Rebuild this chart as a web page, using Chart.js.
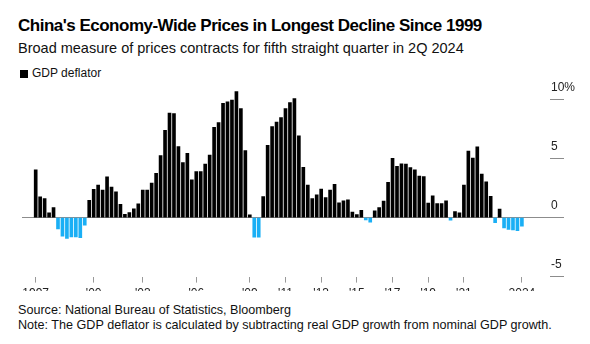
<!DOCTYPE html>
<html lang="en">
<head>
<meta charset="UTF-8">
<title>China's Economy-Wide Prices in Longest Decline Since 1999</title>
<script src="https://cdn.jsdelivr.net/npm/chart.js@4.4.1/dist/chart.umd.min.js"></script>
<style>
  body { margin: 0; background: #fff; font-family: "Liberation Sans", Arial, sans-serif; color: #000; }
  .wrap { position: relative; width: 590px; height: 344px; overflow: hidden; }
  h1 { position: absolute; left: 18px; top: 16px; margin: 0; font-size: 17px; font-weight: bold; letter-spacing: -0.5px; white-space: nowrap; }
  .sub { position: absolute; left: 18px; top: 40px; font-size: 14.5px; color: #111; white-space: nowrap; }
  .legend { position: absolute; left: 20px; top: 66px; font-size: 12px; color: #111; }
  .legend i { display: inline-block; width: 8px; height: 8px; background: #000; margin-right: 4px; vertical-align: -1px; }
  .chart-box { position: absolute; left: 0; top: 80px; width: 590px; height: 211px; overflow: hidden; }
  .chart-inner { position: relative; width: 590px; height: 229px; }
  .foot { position: absolute; left: 18px; top: 303px; font-size: 12.6px; line-height: 15px; color: #111; white-space: nowrap; }
</style>
</head>
<body>
<div class="wrap">
  <h1>China's Economy-Wide Prices in Longest Decline Since 1999</h1>
  <div class="sub">Broad measure of prices contracts for fifth straight quarter in 2Q 2024</div>
  <div class="legend"><i></i>GDP deflator</div>
  <div class="chart-box"><div class="chart-inner"><canvas id="chart"></canvas></div></div>
  <div class="foot">Source: National Bureau of Statistics, Bloomberg<br>Note: The GDP deflator is calculated by subtracting real GDP growth from nominal GDP growth.</div>
</div>

<script>
// quarterly GDP deflator, % y/y, 1Q 1997 .. 2Q 2024
const startYear = 1997;
const deflator = [
  4.05, 1.77, 1.62, 0.42,     // 1997
  0.85, -0.95, -1.57, -1.77,  // 1998
  -1.63, -1.63, -1.70, -0.64, // 1999
  1.48, 2.40, 2.77, 2.35,     // 2000
  3.46, 2.60, 2.20, 1.14,     // 2001
  0.28, 0.44, 0.74, 1.17,     // 2002
  2.35, 2.35, 2.93, 3.76,     // 2003
  5.27, 7.40, 8.88, 8.82,     // 2004
  6.04, 4.68, 5.45, 3.20,     // 2005
  3.91, 3.91, 4.55, 5.31,     // 2006
  7.67, 8.06, 9.69, 9.83,     // 2007
  9.97, 10.69, 9.25, 5.70,    // 2008
  0.23, -1.65, -1.65, 1.79,   // 2009
  6.13, 7.73, 8.10, 8.50,     // 2010
  9.26, 9.77, 10.11, 6.94,    // 2011
  4.28, 2.77, 1.62, 1.94,     // 2012
  2.42, 1.71, 2.34, 2.83,     // 2013
  1.25, 1.43, 1.51, 0.48,     // 2014
  0.27, 0.63, -0.20, -0.38,   // 2015
  0.57, 0.85, 1.40, 3.00,     // 2016
  5.04, 4.36, 4.56, 4.54,     // 2017
  4.24, 4.05, 3.53, 3.48,     // 2018
  1.23, 1.85, 1.20, 1.20,     // 2019
  1.42, -0.22, 0.51, 0.40,    // 2020
  2.76, 5.65, 5.05, 6.01,     // 2021
  3.70, 3.03, 1.82, -0.42,    // 2022
  0.72, -0.87, -1.00, -1.03,  // 2023
  -1.10, -0.72                // 2024
];

// x tick positions (quarter index from 1Q 1997) and their labels
const xTickIdx = [0, 13, 24, 36, 48, 56, 64, 72, 80, 88, 96, 109];
const xTickLabels = ['1997', "'00", "'03", "'06", "'09", "'11", "'13", "'15", "'17", "'19", "'21", '2024'];
const yTicks = [-5, 0, 5, 10];

const quarters = deflator.map((v, i) => (i % 4 + 1) + 'Q ' + (startYear + Math.floor(i / 4)));
const points = deflator.map((v, i) => ({ x: i, y: v }));

const fontFamily = '"Liberation Sans", Arial, sans-serif';

// y labels sit above the short tick marks on the right
const yLabelPlugin = {
  id: 'yLabelPlugin',
  afterDraw(chart) {
    const { ctx } = chart;
    const y = chart.scales.y;
    ctx.save();
    ctx.font = '12px ' + fontFamily;
    ctx.fillStyle = '#222';
    ctx.textAlign = 'left';
    ctx.textBaseline = 'middle';
    y.ticks.forEach(t => {
      const label = t.value === 10 ? '10%' : String(t.value);
      ctx.fillText(label, y.left + 1, y.getPixelForValue(t.value) - 12);
    });
    ctx.restore();
  }
};

new Chart(document.getElementById('chart'), {
  type: 'bar',
  data: {
    labels: quarters,
    datasets: [{
      label: 'GDP deflator',
      data: points,
      backgroundColor: deflator.map(v => v < 0 ? '#1aaff5' : '#000'),
      barThickness: 3,
      borderWidth: 0
    }]
  },
  options: {
    responsive: true,
    maintainAspectRatio: false,
    animation: false,
    layout: { padding: { left: 22, right: 26, top: 8, bottom: 4 } },
    plugins: { legend: { display: false }, tooltip: { enabled: false } },
    scales: {
      x: {
        type: 'linear',
        offset: false,
        min: -3.07,
        max: 115.3,
        afterBuildTicks: s => { s.ticks = xTickIdx.map(v => ({ value: v })); },
        grid: { offset: false, drawOnChartArea: false, drawTicks: true, tickLength: 6, tickColor: '#999' },
        border: { display: false },
        ticks: {
          autoSkip: false, maxRotation: 0, padding: 4,
          color: '#222', font: { family: fontFamily, size: 12 },
          callback: (v, i) => xTickLabels[i]
        }
      },
      y: {
        position: 'right',
        min: -5,
        max: 11,
        afterBuildTicks: s => { s.ticks = yTicks.map(v => ({ value: v })); },
        grid: {
          color: c => c.tick && c.tick.value === 0 ? '#8c8c8c' : 'rgba(0,0,0,0)',
          tickColor: '#8c8c8c',
          tickLength: 14,
          lineWidth: 1
        },
        border: { display: false },
        ticks: { display: false }
      }
    }
  },
  plugins: [yLabelPlugin]
});
</script>
</body>
</html>
